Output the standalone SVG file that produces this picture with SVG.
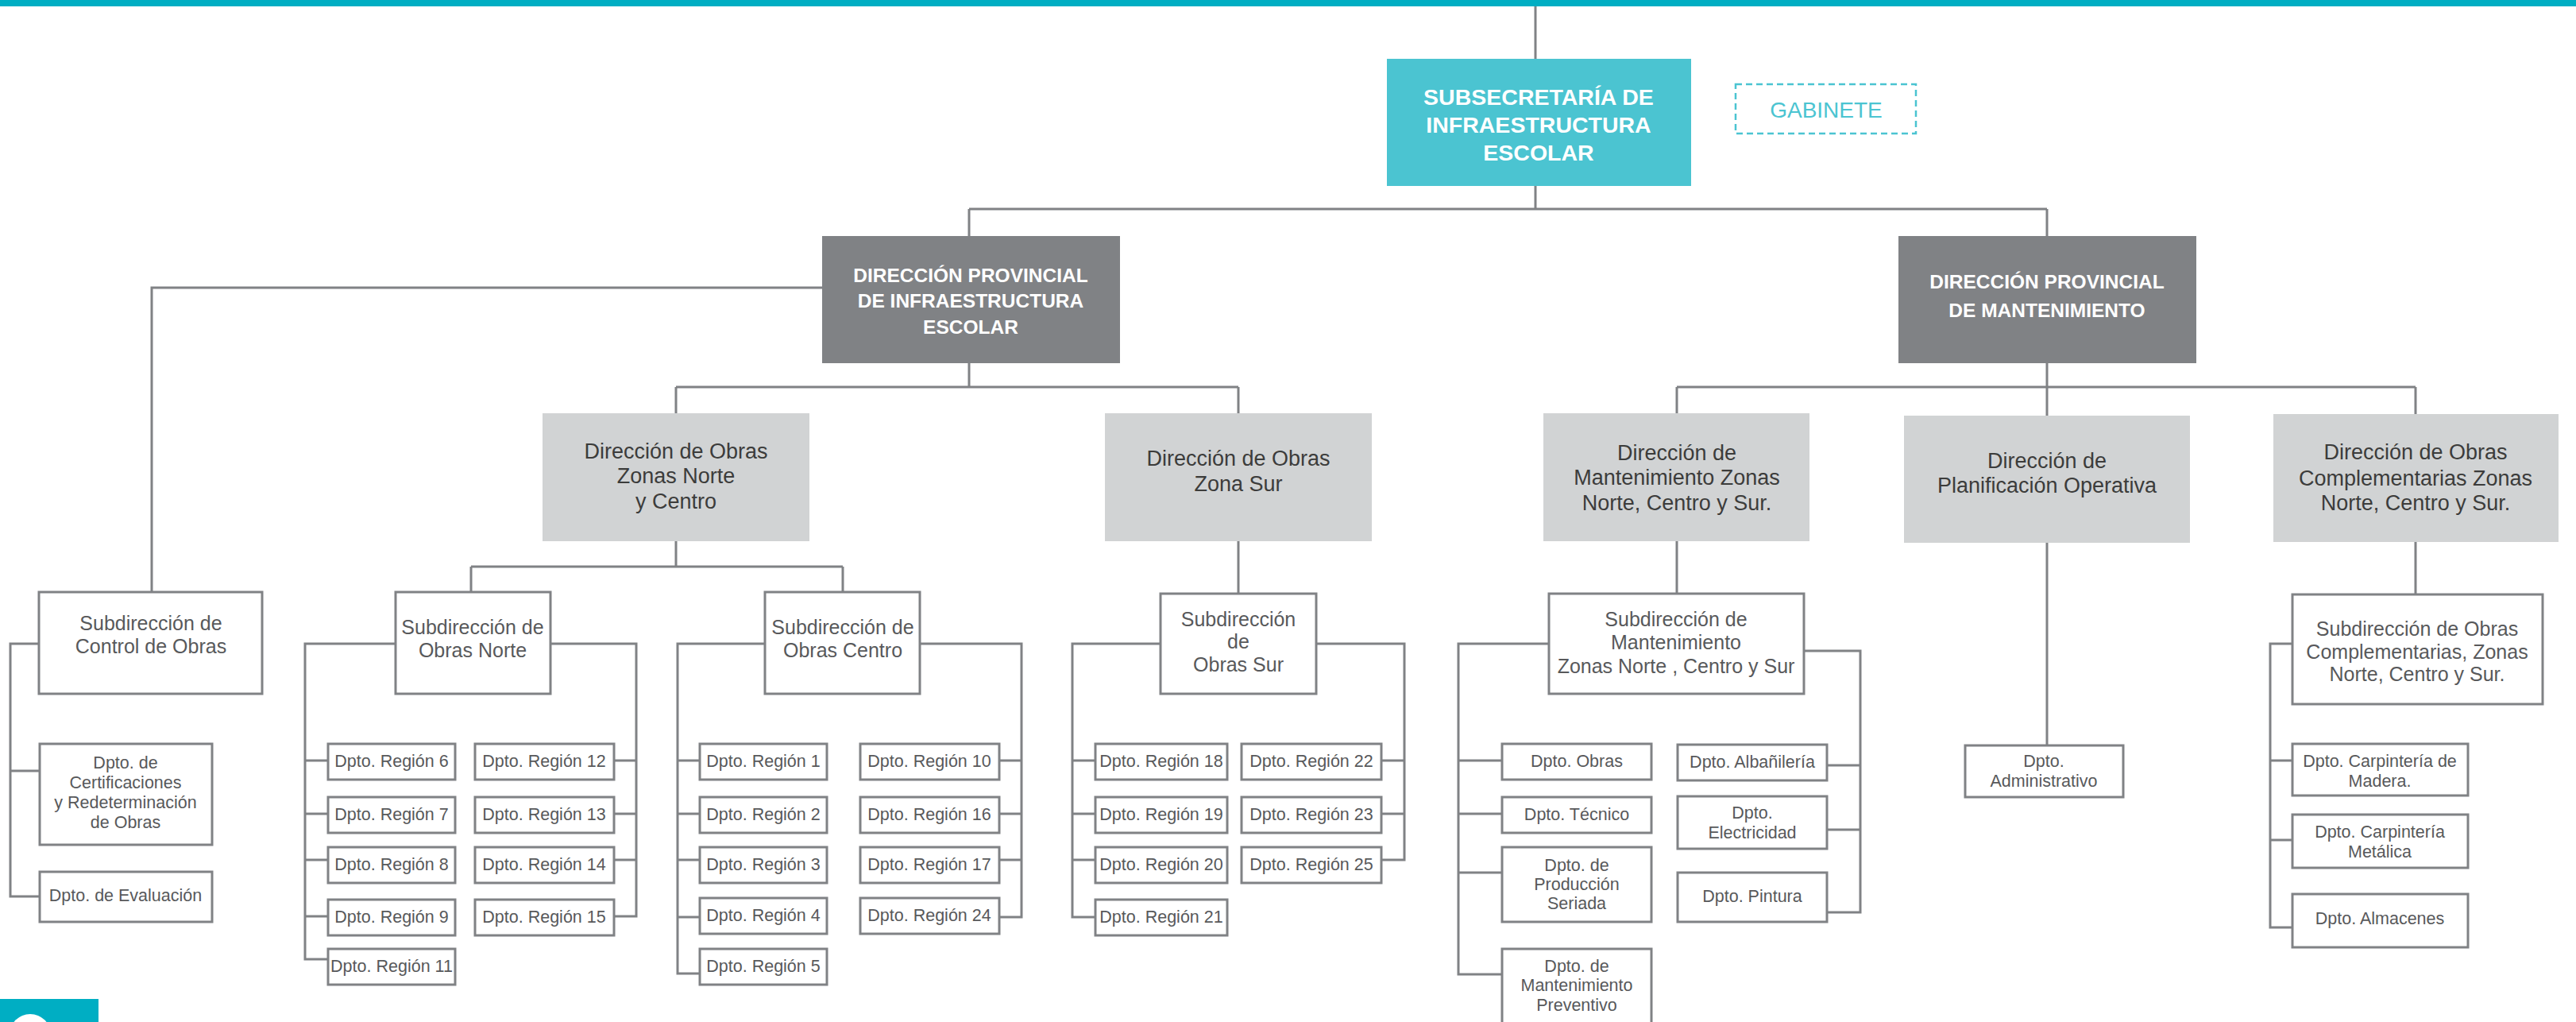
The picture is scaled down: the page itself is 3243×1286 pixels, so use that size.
<svg xmlns="http://www.w3.org/2000/svg" width="3243" height="1286" viewBox="0 0 3243 1286">
<style>
.c{stroke:#808285;stroke-width:3;fill:none}
.bx{fill:#fff;stroke:#808285;stroke-width:3}
.gb{fill:#d1d3d4}
.db{fill:#808285}
.t{font-family:"Liberation Sans",Arial,sans-serif;text-anchor:middle}
.dp{font-size:21.5px;fill:#58595b}
.sd{font-size:25px;fill:#58595b}
.dr{font-size:27px;fill:#3c3c3b}
.hb{font-size:24.5px;font-weight:bold;fill:#fff}
.ss{font-size:28.5px;font-weight:bold;fill:#fff}
.gab{font-size:28px;fill:#4bc4d1}
</style>
<rect x="0" y="0" width="3243" height="1286" fill="#fff"/>
<rect x="0" y="0" width="3243" height="8" fill="#00aec3"/>
<g id="badge"><rect x="0" y="1257" width="124" height="29" fill="#00aec3"/><circle cx="38" cy="1302" r="26" fill="#fff"/></g>

<g id="connectors" class="c">
<path d="M1933 8V74M1933 234V263M1220 263H2577M1220 263V297M2577 263V297"/>
<path d="M1035 362H191V745"/>
<path d="M1220 457V487M851 487H1559M851 487V520M1559 487V520"/>
<path d="M2577 457V523M2111 487H3041M2111 487V520M3041 487V521"/>
<path d="M851 681V713M593 713H1061M593 713V745M1061 713V745"/>
<path d="M1559 681V747M2111 681V747M2577 683V938M3041 682V748"/>
<path d="M49 810H13V1128H50M13 970H50"/>
<path d="M498 810H384V1207H413M384 957H413M384 1024H413M384 1082H413M384 1153H413"/>
<path d="M693 810H801V1153H773M801 957H773M801 1024H773M801 1082H773"/>
<path d="M963 810H853V1225H881M853 957H881M853 1024H881M853 1082H881M853 1154H881"/>
<path d="M1158 810H1286V1154H1258M1286 957H1258M1286 1024H1258M1286 1082H1258"/>
<path d="M1461 810H1350V1154H1379M1350 957H1379M1350 1024H1379M1350 1082H1379"/>
<path d="M1657 810H1768V1082H1739M1768 957H1739M1768 1024H1739"/>
<path d="M1950 810H1836V1226H1891M1836 957H1891M1836 1024H1891M1836 1098H1891"/>
<path d="M2271 819H2342V1148H2300M2342 963H2300M2342 1044H2300"/>
<path d="M2886 810H2858V1167H2886M2858 957H2886M2858 1057H2886"/>
</g>

<g id="subsecretaria"><rect x="1746" y="74" width="383" height="160" fill="#4bc4d1"/>
<text class="t ss" x="1937" y="132">SUBSECRETARÍA DE</text><text class="t ss" x="1937" y="167">INFRAESTRUCTURA</text><text class="t ss" x="1937" y="202">ESCOLAR</text></g>
<g id="gabinete"><rect x="2185" y="106" width="227" height="62" fill="none" stroke="#4bc4d1" stroke-width="2.5" stroke-dasharray="8 5"/>
<text class="t gab" x="2299" y="148">GABINETE</text></g>

<g id="dp-infra"><rect class="db" x="1035" y="297" width="375" height="160"/>
<text class="t hb" x="1222" y="355">DIRECCIÓN PROVINCIAL</text><text class="t hb" x="1222" y="387">DE INFRAESTRUCTURA</text><text class="t hb" x="1222" y="420">ESCOLAR</text></g>
<g id="dp-mant"><rect class="db" x="2390" y="297" width="375" height="160"/>
<text class="t hb" x="2577" y="363">DIRECCIÓN PROVINCIAL</text><text class="t hb" x="2577" y="399">DE MANTENIMIENTO</text></g>

<g id="d-norte-centro"><rect class="gb" x="683" y="520" width="336" height="161"/>
<text class="t dr" x="851" y="577">Dirección de Obras</text><text class="t dr" x="851" y="608">Zonas Norte</text><text class="t dr" x="851" y="640">y Centro</text></g>
<g id="d-sur"><rect class="gb" x="1391" y="520" width="336" height="161"/>
<text class="t dr" x="1559" y="586">Dirección de Obras</text><text class="t dr" x="1559" y="618">Zona Sur</text></g>
<g id="d-mant-zonas"><rect class="gb" x="1943" y="520" width="335" height="161"/>
<text class="t dr" x="2111" y="579">Dirección de</text><text class="t dr" x="2111" y="610">Mantenimiento Zonas</text><text class="t dr" x="2111" y="642">Norte, Centro y Sur.</text></g>
<g id="d-planif"><rect class="gb" x="2397" y="523" width="360" height="160"/>
<text class="t dr" x="2577" y="589">Dirección de</text><text class="t dr" x="2577" y="620">Planificación Operativa</text></g>
<g id="d-comp"><rect class="gb" x="2862" y="521" width="359" height="161"/>
<text class="t dr" x="3041" y="578">Dirección de Obras</text><text class="t dr" x="3041" y="611">Complementarias Zonas</text><text class="t dr" x="3041" y="642">Norte, Centro y Sur.</text></g>

<g id="s-control"><rect class="bx" x="49" y="745" width="281" height="128"/>
<text class="t sd" x="190" y="793">Subdirección de</text><text class="t sd" x="190" y="822">Control de Obras</text></g>
<g id="s-norte"><rect class="bx" x="498" y="745" width="195" height="128"/>
<text class="t sd" x="595" y="798">Subdirección de</text><text class="t sd" x="595" y="827">Obras Norte</text></g>
<g id="s-centro"><rect class="bx" x="963" y="745" width="195" height="128"/>
<text class="t sd" x="1061" y="798">Subdirección de</text><text class="t sd" x="1061" y="827">Obras Centro</text></g>
<g id="s-sur"><rect class="bx" x="1461" y="747" width="196" height="126"/>
<text class="t sd" x="1559" y="788">Subdirección</text><text class="t sd" x="1559" y="816">de</text><text class="t sd" x="1559" y="845">Obras Sur</text></g>
<g id="s-mant"><rect class="bx" x="1950" y="747" width="321" height="126"/>
<text class="t sd" x="2110" y="788">Subdirección de</text><text class="t sd" x="2110" y="817">Mantenimiento</text><text class="t sd" x="2110" y="847">Zonas Norte , Centro y Sur</text></g>
<g id="s-comp"><rect class="bx" x="2886" y="748" width="315" height="138"/>
<text class="t sd" x="3043" y="800">Subdirección de Obras</text><text class="t sd" x="3043" y="829">Complementarias, Zonas</text><text class="t sd" x="3043" y="857">Norte, Centro y Sur.</text></g>

<g id="dp-cert"><rect class="bx" x="50" y="936" width="217" height="127"/>
<text class="t dp" x="158" y="967">Dpto. de</text><text class="t dp" x="158" y="992">Certificaciones</text><text class="t dp" x="158" y="1017">y Redeterminación</text><text class="t dp" x="158" y="1042">de Obras</text></g>
<g id="dp-eval"><rect class="bx" x="50" y="1097" width="217" height="63"/><text class="t dp" x="158" y="1134">Dpto. de Evaluación</text></g>

<g id="r6"><rect class="bx" x="413" y="936" width="160" height="45"/><text class="t dp" x="493" y="965">Dpto. Región 6</text></g>
<g id="r7"><rect class="bx" x="413" y="1003" width="160" height="45"/><text class="t dp" x="493" y="1032">Dpto. Región 7</text></g>
<g id="r8"><rect class="bx" x="413" y="1066" width="160" height="45"/><text class="t dp" x="493" y="1095">Dpto. Región 8</text></g>
<g id="r9"><rect class="bx" x="413" y="1132" width="160" height="45"/><text class="t dp" x="493" y="1161">Dpto. Región 9</text></g>
<g id="r11"><rect class="bx" x="413" y="1194" width="160" height="45"/><text class="t dp" x="493" y="1223">Dpto. Región 11</text></g>
<g id="r12"><rect class="bx" x="598" y="936" width="175" height="45"/><text class="t dp" x="685" y="965">Dpto. Región 12</text></g>
<g id="r13"><rect class="bx" x="598" y="1003" width="175" height="45"/><text class="t dp" x="685" y="1032">Dpto. Región 13</text></g>
<g id="r14"><rect class="bx" x="598" y="1066" width="175" height="45"/><text class="t dp" x="685" y="1095">Dpto. Región 14</text></g>
<g id="r15"><rect class="bx" x="598" y="1132" width="175" height="45"/><text class="t dp" x="685" y="1161">Dpto. Región 15</text></g>

<g id="r1"><rect class="bx" x="881" y="936" width="160" height="45"/><text class="t dp" x="961" y="965">Dpto. Región 1</text></g>
<g id="r2"><rect class="bx" x="881" y="1003" width="160" height="45"/><text class="t dp" x="961" y="1032">Dpto. Región 2</text></g>
<g id="r3"><rect class="bx" x="881" y="1066" width="160" height="45"/><text class="t dp" x="961" y="1095">Dpto. Región 3</text></g>
<g id="r4"><rect class="bx" x="881" y="1130" width="160" height="45"/><text class="t dp" x="961" y="1159">Dpto. Región 4</text></g>
<g id="r5"><rect class="bx" x="881" y="1194" width="160" height="45"/><text class="t dp" x="961" y="1223">Dpto. Región 5</text></g>
<g id="r10"><rect class="bx" x="1083" y="936" width="175" height="45"/><text class="t dp" x="1170" y="965">Dpto. Región 10</text></g>
<g id="r16"><rect class="bx" x="1083" y="1003" width="175" height="45"/><text class="t dp" x="1170" y="1032">Dpto. Región 16</text></g>
<g id="r17"><rect class="bx" x="1083" y="1066" width="175" height="45"/><text class="t dp" x="1170" y="1095">Dpto. Región 17</text></g>
<g id="r24"><rect class="bx" x="1083" y="1130" width="175" height="45"/><text class="t dp" x="1170" y="1159">Dpto. Región 24</text></g>

<g id="r18"><rect class="bx" x="1379" y="936" width="166" height="45"/><text class="t dp" x="1462" y="965">Dpto. Región 18</text></g>
<g id="r19"><rect class="bx" x="1379" y="1003" width="166" height="45"/><text class="t dp" x="1462" y="1032">Dpto. Región 19</text></g>
<g id="r20"><rect class="bx" x="1379" y="1066" width="166" height="45"/><text class="t dp" x="1462" y="1095">Dpto. Región 20</text></g>
<g id="r21"><rect class="bx" x="1379" y="1132" width="166" height="45"/><text class="t dp" x="1462" y="1161">Dpto. Región 21</text></g>
<g id="r22"><rect class="bx" x="1563" y="936" width="176" height="45"/><text class="t dp" x="1651" y="965">Dpto. Región 22</text></g>
<g id="r23"><rect class="bx" x="1563" y="1003" width="176" height="45"/><text class="t dp" x="1651" y="1032">Dpto. Región 23</text></g>
<g id="r25"><rect class="bx" x="1563" y="1066" width="176" height="45"/><text class="t dp" x="1651" y="1095">Dpto. Región 25</text></g>

<g id="dp-obras"><rect class="bx" x="1891" y="936" width="188" height="45"/><text class="t dp" x="1985" y="965">Dpto. Obras</text></g>
<g id="dp-tecnico"><rect class="bx" x="1891" y="1003" width="188" height="45"/><text class="t dp" x="1985" y="1032">Dpto. Técnico</text></g>
<g id="dp-produccion"><rect class="bx" x="1891" y="1066" width="188" height="94"/>
<text class="t dp" x="1985" y="1096">Dpto. de</text><text class="t dp" x="1985" y="1120">Producción</text><text class="t dp" x="1985" y="1144">Seriada</text></g>
<g id="dp-preventivo"><rect class="bx" x="1891" y="1194" width="188" height="100"/>
<text class="t dp" x="1985" y="1223">Dpto. de</text><text class="t dp" x="1985" y="1247">Mantenimiento</text><text class="t dp" x="1985" y="1272">Preventivo</text></g>
<g id="dp-albanileria"><rect class="bx" x="2112" y="937" width="188" height="45"/><text class="t dp" x="2206" y="966">Dpto. Albañilería</text></g>
<g id="dp-electricidad"><rect class="bx" x="2112" y="1002" width="188" height="66"/>
<text class="t dp" x="2206" y="1030">Dpto.</text><text class="t dp" x="2206" y="1055">Electricidad</text></g>
<g id="dp-pintura"><rect class="bx" x="2112" y="1098" width="188" height="62"/><text class="t dp" x="2206" y="1135">Dpto. Pintura</text></g>

<g id="dp-admin"><rect class="bx" x="2474" y="938" width="199" height="65"/>
<text class="t dp" x="2573" y="965">Dpto.</text><text class="t dp" x="2573" y="990">Administrativo</text></g>

<g id="dp-madera"><rect class="bx" x="2886" y="936" width="221" height="65"/>
<text class="t dp" x="2996" y="965">Dpto. Carpintería de</text><text class="t dp" x="2996" y="990">Madera.</text></g>
<g id="dp-metalica"><rect class="bx" x="2886" y="1025" width="221" height="67"/>
<text class="t dp" x="2996" y="1054">Dpto. Carpintería</text><text class="t dp" x="2996" y="1079">Metálica</text></g>
<g id="dp-almacenes"><rect class="bx" x="2886" y="1125" width="221" height="67"/><text class="t dp" x="2996" y="1163">Dpto. Almacenes</text></g>
</svg>
